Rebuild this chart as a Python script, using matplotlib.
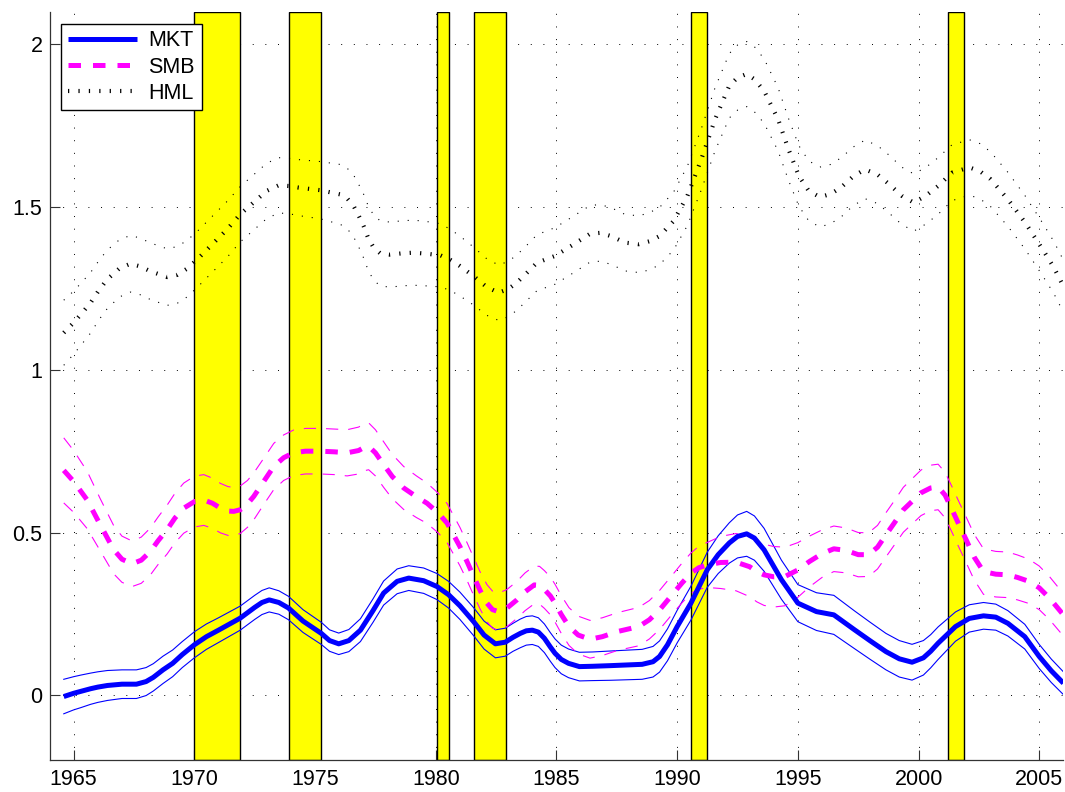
import matplotlib
matplotlib.use("Agg")
import matplotlib.pyplot as plt
import numpy as np

plt.rcParams['font.family'] = ['Liberation Sans', 'DejaVu Sans']

# ---- data ----
mkt_years = [1964.59, 1965.0, 1965.3, 1965.7, 1966.0, 1966.4, 1967.0, 1967.6, 1968.0, 1968.3,
             1968.7, 1969.1, 1969.5, 1970.0, 1970.5, 1971.0, 1971.9, 1972.5, 1972.8, 1973.1,
             1973.5, 1973.9, 1974.5, 1975.26, 1975.6, 1975.98, 1976.4, 1976.88, 1977.4, 1977.84,
             1978.4, 1978.88, 1979.5, 1980.05, 1980.53, 1981.0, 1981.57, 1982.0, 1982.47, 1982.88,
             1983.2, 1983.5, 1983.75, 1984.0, 1984.25, 1984.5, 1984.75, 1984.94, 1985.2, 1985.5,
             1985.95, 1986.5, 1987.25, 1988.55, 1989.0, 1989.27, 1989.6, 1990.0, 1990.57, 1991.25,
             1991.7, 1992.16, 1992.5, 1992.88, 1993.2, 1993.6, 1994.32, 1995.0, 1995.77, 1996.49,
             1997.35, 1998.0, 1998.65, 1999.2, 1999.73, 2000.2, 2000.5, 2000.81, 2001.53, 2002.1,
             2002.69, 2003.2, 2003.7, 2004.4, 2005.0, 2005.5, 2006.0]
mkt_mid = [-0.004, 0.006, 0.012, 0.020, 0.025, 0.030, 0.034, 0.034, 0.042, 0.055,
           0.078, 0.098, 0.125, 0.155, 0.180, 0.200, 0.237, 0.270, 0.285, 0.293,
           0.285, 0.268, 0.228, 0.190, 0.168, 0.158, 0.168, 0.200, 0.260, 0.314,
           0.350, 0.360, 0.352, 0.334, 0.309, 0.275, 0.226, 0.185, 0.158, 0.163,
           0.178, 0.190, 0.198, 0.200, 0.194, 0.175, 0.148, 0.129, 0.110, 0.098,
           0.088, 0.089, 0.091, 0.095, 0.103, 0.119, 0.155, 0.211, 0.283, 0.386,
           0.432, 0.468, 0.488, 0.496, 0.483, 0.447, 0.355, 0.283, 0.257, 0.247,
           0.201, 0.167, 0.134, 0.112, 0.1015, 0.115, 0.135, 0.160, 0.211, 0.236,
           0.244, 0.240, 0.221, 0.180, 0.119, 0.075, 0.037]
mkt_half = [0.053, 0.051, 0.050, 0.048, 0.047, 0.046, 0.044, 0.044, 0.043, 0.042,
            0.042, 0.041, 0.040, 0.040, 0.039, 0.038, 0.037, 0.037, 0.037, 0.037,
            0.036, 0.036, 0.035, 0.034, 0.033, 0.033, 0.034, 0.035, 0.036, 0.037,
            0.038, 0.038, 0.039, 0.040, 0.041, 0.042, 0.043, 0.043, 0.043, 0.043,
            0.043, 0.044, 0.044, 0.044, 0.044, 0.044, 0.044, 0.044, 0.044, 0.044,
            0.044, 0.044, 0.045, 0.046, 0.047, 0.048, 0.049, 0.050, 0.052, 0.054,
            0.058, 0.062, 0.066, 0.069, 0.068, 0.066, 0.060, 0.057, 0.058, 0.060,
            0.058, 0.057, 0.056, 0.056, 0.055, 0.053, 0.051, 0.050, 0.045, 0.042,
            0.041, 0.040, 0.039, 0.038, 0.037, 0.036, 0.035]

smb_years = [1964.59, 1965.0, 1965.56, 1966.1, 1966.66, 1967.0, 1967.42, 1967.8, 1968.18, 1968.5,
             1968.87, 1969.2, 1969.56, 1970.0, 1970.39, 1970.75, 1971.08, 1971.4, 1971.63, 1971.9,
             1972.2, 1972.46, 1972.9, 1973.29, 1973.7, 1974.11, 1974.6, 1975.22, 1975.8, 1976.33,
             1976.8, 1977.05, 1977.22, 1977.5, 1977.84, 1978.2, 1978.67, 1979.2, 1979.64, 1980.1,
             1980.47, 1981.0, 1981.3, 1981.57, 1981.85, 1982.12, 1982.35, 1982.6, 1982.95, 1983.36,
             1983.7, 1984.08, 1984.3, 1984.5, 1984.75, 1984.94, 1985.2, 1985.52, 1985.9, 1986.39,
             1986.9, 1987.54, 1988.41, 1988.85, 1989.27, 1989.85, 1990.2, 1990.57, 1990.9, 1991.29,
             1991.8, 1992.44, 1993.0, 1993.3, 1993.6, 1994.0, 1994.47, 1995.0, 1995.48, 1996.0,
             1996.49, 1997.0, 1997.5, 1997.93, 1998.3, 1998.65, 1999.0, 1999.37, 2000.1, 2000.5,
             2000.81, 2001.1, 2001.39, 2001.7, 2001.97, 2002.3, 2002.69, 2003.2, 2003.7, 2004.1,
             2004.57, 2005.0, 2005.43, 2006.0]
smb_mid = [0.691, 0.657, 0.600, 0.524, 0.447, 0.418, 0.404, 0.415, 0.442, 0.475,
           0.509, 0.545, 0.575, 0.595, 0.600, 0.590, 0.575, 0.566, 0.565, 0.570,
           0.588, 0.611, 0.660, 0.703, 0.730, 0.745, 0.750, 0.750, 0.748, 0.745,
           0.752, 0.762, 0.765, 0.745, 0.709, 0.672, 0.637, 0.610, 0.590, 0.560,
           0.529, 0.457, 0.410, 0.365, 0.320, 0.283, 0.263, 0.257, 0.268, 0.293,
           0.318, 0.339, 0.338, 0.325, 0.305, 0.283, 0.248, 0.211, 0.185, 0.172,
           0.180, 0.196, 0.211, 0.232, 0.262, 0.314, 0.345, 0.375, 0.392, 0.401,
           0.408, 0.409, 0.395, 0.380, 0.370, 0.364, 0.365, 0.385, 0.411, 0.435,
           0.450, 0.445, 0.432, 0.432, 0.455, 0.493, 0.530, 0.570, 0.622, 0.637,
           0.640, 0.615, 0.570, 0.520, 0.478, 0.425, 0.380, 0.372, 0.370, 0.362,
           0.350, 0.330, 0.298, 0.247]
smb_half = [0.100, 0.095, 0.088, 0.080, 0.074, 0.071, 0.070, 0.071, 0.072, 0.073,
            0.075, 0.076, 0.077, 0.078, 0.078, 0.077, 0.076, 0.075, 0.074, 0.073,
            0.072, 0.072, 0.071, 0.071, 0.070, 0.070, 0.070, 0.070, 0.070, 0.071,
            0.072, 0.072, 0.072, 0.071, 0.070, 0.068, 0.066, 0.064, 0.062, 0.061,
            0.060, 0.059, 0.058, 0.058, 0.057, 0.057, 0.057, 0.057, 0.057, 0.057,
            0.058, 0.058, 0.058, 0.058, 0.058, 0.058, 0.058, 0.058, 0.058, 0.058,
            0.058, 0.058, 0.059, 0.059, 0.060, 0.060, 0.061, 0.062, 0.066, 0.070,
            0.080, 0.088, 0.092, 0.093, 0.094, 0.093, 0.090, 0.084, 0.078, 0.073,
            0.070, 0.069, 0.068, 0.067, 0.067, 0.068, 0.068, 0.069, 0.070, 0.070,
            0.070, 0.070, 0.070, 0.070, 0.070, 0.070, 0.070, 0.070, 0.070, 0.069,
            0.068, 0.067, 0.066, 0.065]

hml_years = [1964.59, 1965.0, 1965.35, 1965.7, 1966.05, 1966.39, 1966.9, 1967.35, 1967.75, 1968.18,
             1968.87, 1969.3, 1969.7, 1970.1, 1970.53, 1971.36, 1971.9, 1972.6, 1973.0, 1973.49,
             1973.9, 1974.32, 1975.22, 1976.05, 1976.35, 1976.6, 1976.8, 1977.01, 1977.2, 1977.43,
             1977.7, 1978.1, 1978.6, 1979.08, 1979.6, 1980.19, 1980.6, 1981.0, 1981.57, 1982.1,
             1982.6, 1983.0, 1983.36, 1983.8, 1984.19, 1984.94, 1985.7, 1986.39, 1986.82, 1987.3,
             1987.83, 1988.41, 1988.85, 1989.27, 1989.85, 1990.42, 1991.0, 1991.57, 1992.16, 1992.5,
             1992.88, 1993.2, 1993.6, 1994.18, 1994.61, 1995.04, 1995.45, 1995.91, 1996.35, 1996.78,
             1997.3, 1997.78, 1998.3, 1998.79, 1999.3, 1999.8, 2000.3, 2000.81, 2001.39, 2002.11,
             2002.55, 2002.98, 2003.7, 2004.42, 2005.14, 2005.6, 2006.0]
hml_mid = [1.114, 1.145, 1.175, 1.206, 1.245, 1.278, 1.312, 1.326, 1.318, 1.303,
           1.285, 1.292, 1.311, 1.338, 1.370, 1.432, 1.478, 1.524, 1.550, 1.567,
           1.565, 1.560, 1.552, 1.539, 1.525, 1.503, 1.475, 1.442, 1.405, 1.375,
           1.358, 1.354, 1.358, 1.360, 1.357, 1.352, 1.338, 1.319, 1.288, 1.255,
           1.237, 1.248, 1.268, 1.300, 1.329, 1.350, 1.385, 1.418, 1.421, 1.410,
           1.391, 1.386, 1.395, 1.411, 1.457, 1.534, 1.647, 1.770, 1.873, 1.898,
           1.909, 1.893, 1.857, 1.770, 1.678, 1.596, 1.550, 1.531, 1.540, 1.560,
           1.595, 1.616, 1.600, 1.570, 1.535, 1.514, 1.535, 1.565, 1.606, 1.622,
           1.610, 1.586, 1.524, 1.452, 1.370, 1.315, 1.257]
hml_half = [0.100, 0.097, 0.095, 0.093, 0.091, 0.090, 0.088, 0.087, 0.087, 0.087,
            0.087, 0.087, 0.087, 0.086, 0.086, 0.086, 0.085, 0.085, 0.085, 0.085,
            0.085, 0.086, 0.088, 0.092, 0.093, 0.095, 0.096, 0.098, 0.099, 0.100,
            0.100, 0.100, 0.100, 0.100, 0.099, 0.097, 0.094, 0.092, 0.089, 0.087,
            0.085, 0.085, 0.085, 0.085, 0.086, 0.087, 0.087, 0.087, 0.087, 0.087,
            0.087, 0.087, 0.088, 0.088, 0.089, 0.091, 0.094, 0.097, 0.099, 0.100,
            0.100, 0.100, 0.099, 0.097, 0.095, 0.093, 0.092, 0.092, 0.091, 0.091,
            0.090, 0.090, 0.089, 0.089, 0.088, 0.088, 0.087, 0.087, 0.086, 0.085,
            0.085, 0.084, 0.083, 0.082, 0.081, 0.080, 0.080]

recession_start = [1970.0, 1973.91, 1980.05, 1981.57, 1990.57, 2001.21]
recession_end = [1971.91, 1975.26, 1980.56, 1982.91, 1991.25, 2001.87]

x_ticks = [1965, 1970, 1975, 1980, 1985, 1990, 1995, 2000, 2005]
y_ticks = [0, 0.5, 1, 1.5, 2]
y_tick_labels = ['0', '0.5', '1', '1.5', '2']
labels = ['MKT', 'SMB', 'HML']

# ---- figure ----
fig = plt.figure(figsize=(10.65, 7.92), dpi=100)
ax = fig.add_axes([0.0465, 0.040, 0.952, 0.945])

for s, e in zip(recession_start, recession_end):
    ax.axvspan(s, e, facecolor='#FFFF00', edgecolor='black', linewidth=1.0, zorder=1)

def band(years, mid, half):
    y = np.asarray(years); m = np.asarray(mid); h = np.asarray(half)
    return y, m, m + h, m - h

kw = dict(solid_joinstyle='round', dash_joinstyle='round')

# MKT
y, m, up, lo = band(mkt_years, mkt_mid, mkt_half)
ax.plot(y, up, color='#0000FF', lw=0.8, zorder=3, **kw)
ax.plot(y, lo, color='#0000FF', lw=0.8, zorder=3, **kw)
l1, = ax.plot(y, m, color='#0000FF', lw=3.6, zorder=4, solid_capstyle='butt', **kw)

# SMB
y, m, up, lo = band(smb_years, smb_mid, smb_half)
ax.plot(y, up, color='#FF00FF', lw=0.8, linestyle=(0, (11, 9)), zorder=3, **kw)
ax.plot(y, lo, color='#FF00FF', lw=0.8, linestyle=(0, (11, 9)), zorder=3, **kw)
l2, = ax.plot(y, m, color='#FF00FF', lw=3.6, linestyle=(0, (2.5, 2.4)), zorder=4, **kw)

# HML
y, m, up, lo = band(hml_years, hml_mid, hml_half)
ax.plot(y, up, color='black', lw=0.8, linestyle=(0, (1, 8)), zorder=3, **kw)
ax.plot(y, lo, color='black', lw=0.8, linestyle=(0, (1, 8)), zorder=3, **kw)
l3, = ax.plot(y, m, color='black', lw=3.0, linestyle=(0, (0.3, 2.2)), zorder=4, **kw)

ax.set_xlim(1964.0, 2006.0)
ax.set_ylim(-0.2, 2.1)
ax.set_xticks(x_ticks)
ax.set_yticks(y_ticks)
ax.set_yticklabels(y_tick_labels)

ax.set_axisbelow(True)
ax.grid(True, color='black', linestyle=(0, (1, 12)), linewidth=0.7)
ax.tick_params(direction='in', length=7, width=0.8, labelsize=15.5, color='#333333', pad=6)
ax.tick_params(axis='y', pad=5)
for side in ['top', 'right']:
    ax.spines[side].set_visible(False)
for side in ['left', 'bottom']:
    ax.spines[side].set_color('#333333')
    ax.spines[side].set_linewidth(0.9)
    ax.spines[side].set_zorder(5)

leg = ax.legend([l1, l2, l3], labels, loc='upper left', fontsize=15.5,
                frameon=True, fancybox=False, framealpha=1, edgecolor='black',
                handlelength=3.2, handletextpad=0.55, labelspacing=0.25,
                borderpad=0.3, borderaxespad=0.55)
leg.get_frame().set_linewidth(1.0)
leg.set_zorder(10)

fig.savefig('out.png', dpi=100)
